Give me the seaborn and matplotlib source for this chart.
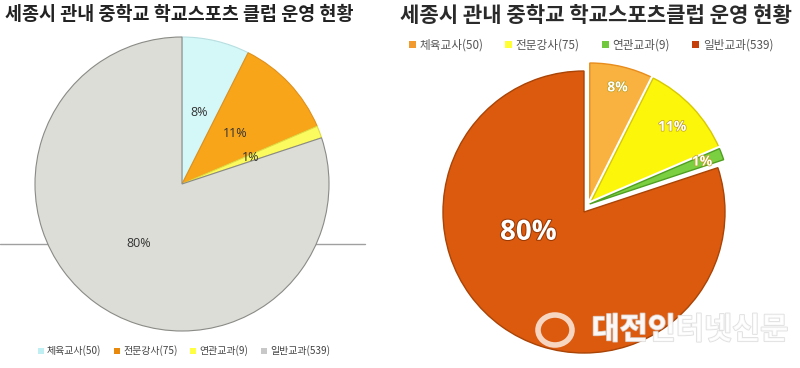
import numpy as np
import matplotlib
matplotlib.use('Agg')
import matplotlib.pyplot as plt
import matplotlib.patheffects as pe
import matplotlib.transforms as mtransforms
from matplotlib.patches import Patch, Ellipse
from matplotlib.lines import Line2D
import seaborn as sns

# data
categories = ['체육교사', '전문강사', '연관교과', '일반교과']
counts = [50, 75, 9, 539]
pct_labels = ['8%', '11%', '1%', '80%']
left_title = '세종시 관내 중학교 학교스포츠 클럽 운영 현황'
right_title = '세종시 관내 중학교 학교스포츠클럽 운영 현황'
legend_labels = [f'{c}({n})' for c, n in zip(categories, counts)]

sns.set_theme(style="white")
plt.rcParams['font.family'] = ['Noto Sans CJK KR', 'DejaVu Sans']

W, H = 800, 368
fig = plt.figure(figsize=(W / 100, H / 100), dpi=100)
fig.patch.set_facecolor('white')


def pie_axes(cx, cy, r, lim=1.0):
    # place an equal-aspect axes so that unit radius maps to r pixels at (cx, cy)
    half = lim * r
    ax = fig.add_axes([(cx - half) / W, 1 - (cy + half) / H, 2 * half / W, 2 * half / H])
    return ax, lim


# ---------------- left chart ----------------
fig.add_artist(Line2D([0, 365 / W], [1 - 244 / H, 1 - 244 / H], color='#a0a0a0', lw=1,
                      zorder=-1))

left_colors = sns.color_palette(['#d4f7f8', '#f9a51a', '#fbfa5e', '#ddddd8'])
left_edges = ['#b8dfe0', '#e0901a', '#e0dc40', '#8a8a86']
axl, lim = pie_axes(182, 184, 147)
wedges_l, texts_l = axl.pie(counts, colors=left_colors, startangle=90, counterclock=False,
                            wedgeprops=dict(linewidth=0.8))
for w, ec in zip(wedges_l, left_edges):
    w.set_edgecolor(ec)
for w, lab in zip(wedges_l, pct_labels):
    ang = np.deg2rad((w.theta1 + w.theta2) / 2)
    axl.text(0.5 * np.cos(ang), 0.5 * np.sin(ang), lab, ha='center', va='center',
             fontsize=9, color='#333333', family=['Open Sans', 'DejaVu Sans'])
axl.set_xlim(-lim, lim)
axl.set_ylim(-lim, lim)
axl.set_aspect('equal')
axl.axis('off')

fig.text(5 / W, 1 - 14 / H, left_title, ha='left', va='center', fontsize=13.3,
         fontweight='bold', color='#222222')

left_marks = ['#bfeff2', '#e8890c', '#ffff44', '#c8c8c8']
fig.legend(handles=[Patch(facecolor=c, edgecolor='none') for c in left_marks],
           labels=legend_labels, loc='center', bbox_to_anchor=(184 / W, 1 - 351 / H),
           ncol=4, frameon=False, fontsize=7.2, labelcolor='#444444',
           handlelength=0.6, handleheight=0.6, handletextpad=0.3, columnspacing=1.3)

# ---------------- right chart ----------------
right_colors = sns.color_palette(['#f9b23f', '#fbf60a', '#7bd042', '#dc5a0e'])
right_edges = ['#e88c1c', '#d8c800', '#4f9f20', '#a94406']
axr, lim = pie_axes(584, 212, 141, lim=1.12)
wedges_r, texts_r = axr.pie(counts, colors=right_colors, startangle=90, counterclock=False,
                            wedgeprops=dict(linewidth=1.0))
for w, ec in zip(wedges_r, right_edges):
    w.set_edgecolor(ec)

# pull the three small slices out together as one group
grp_a1 = wedges_r[2].theta1
grp_a2 = wedges_r[0].theta2
mid = np.deg2rad((grp_a1 + grp_a2) / 2)
dist = 0.07
dx, dy = dist * np.cos(mid), dist * np.sin(mid)
shift = mtransforms.Affine2D().translate(dx, dy) + axr.transData
for w in wedges_r[:3]:
    w.set_transform(shift)
    w.set_path_effects([pe.Stroke(linewidth=4, foreground='white'), pe.Normal()])

label_pos = [(None, 0.85), (None, 0.8), (None, 0.85), (200, 0.42)]
for i, (w, lab) in enumerate(zip(wedges_r, pct_labels)):
    a_override, r = label_pos[i]
    a = a_override if a_override is not None else (w.theta1 + w.theta2) / 2
    a = np.deg2rad(a)
    ox, oy = (dx, dy) if i < 3 else (0, 0)
    big = i == 3
    axr.text(ox + r * np.cos(a), oy + r * np.sin(a), lab, ha='center', va='center',
             fontsize=20 if big else 10, fontweight='bold', color='white',
             family=['Open Sans', 'DejaVu Sans'],
             path_effects=[pe.withStroke(linewidth=1.5 if big else 1.0,
                                         foreground='#9a3a05' if big else '#c0a020')])
axr.set_xlim(-lim, lim)
axr.set_ylim(-lim, lim)
axr.set_aspect('equal')
axr.axis('off')

fig.text(596 / W, 1 - 15 / H, right_title, ha='center', va='center', fontsize=15.2,
         fontweight='bold', color='#2a2a2a')

right_marks = ['#f29a2e', '#ffff33', '#72c83c', '#c43f0a']
fig.legend(handles=[Patch(facecolor=c, edgecolor='none') for c in right_marks],
           labels=legend_labels, loc='center', bbox_to_anchor=(591 / W, 1 - 45 / H),
           ncol=4, frameon=False, fontsize=8.4, labelcolor='#555555',
           handlelength=0.6, handleheight=0.6, handletextpad=0.3, columnspacing=1.9)

# watermark
fig.add_artist(Ellipse((555 / W, 1 - 330 / H), 34 / W, 30 / H, transform=fig.transFigure,
                       facecolor='none', edgecolor='white', lw=4, alpha=0.75))
fig.text(690 / W, 1 - 330 / H, '대전인터넷신문', ha='center', va='center', fontsize=22,
         fontweight='bold', color='white', alpha=0.8,
         path_effects=[pe.withStroke(linewidth=1.2, foreground='#d8d8d8')])

fig.savefig('out.png', dpi=100)
